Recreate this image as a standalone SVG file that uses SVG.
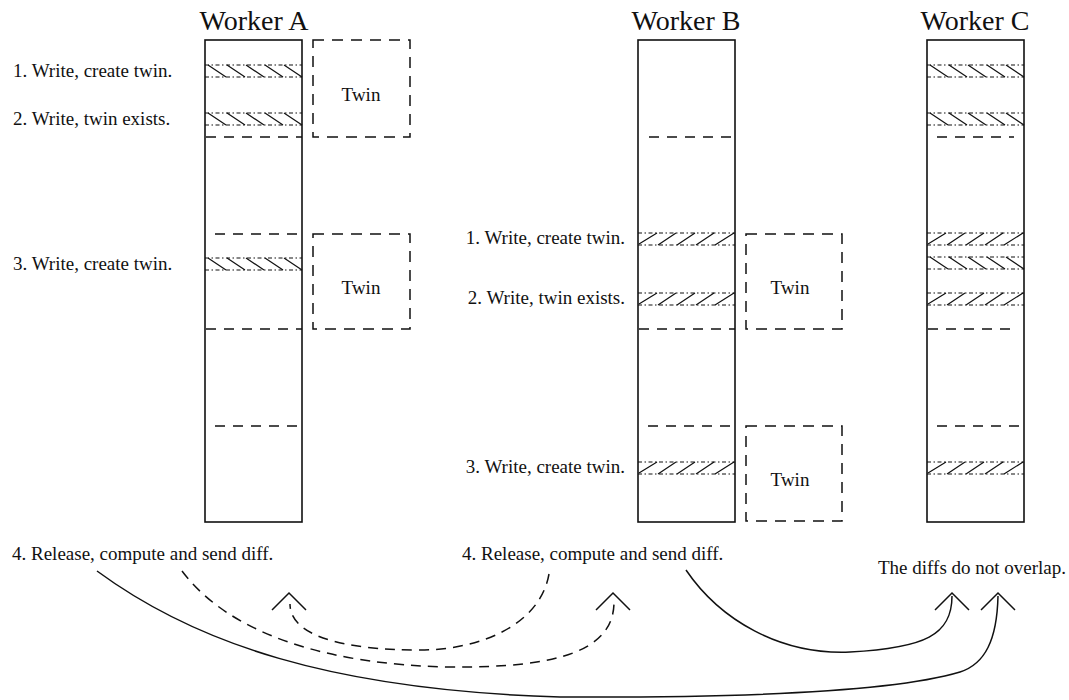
<svg xmlns="http://www.w3.org/2000/svg" xmlns:xlink="http://www.w3.org/1999/xlink" width="1069" height="700" viewBox="0 0 1069 700">
<style>
  .bg { fill: #ffffff; }
  .title { font-family: "Liberation Serif", "Times New Roman", serif; font-size: 28px; fill: #111; text-anchor: middle; }
  .lbl { font-family: "Liberation Serif", "Times New Roman", serif; font-size: 19px; fill: #111; }
  .twintxt { font-family: "Liberation Serif", "Times New Roman", serif; font-size: 19px; fill: #111; text-anchor: middle; }
  .box { fill: none; stroke: #111; stroke-width: 1.6; }
  .dl { fill: none; stroke: #111; stroke-width: 1.5; stroke-dasharray: 10 8; }
  .twin { fill: none; stroke: #111; stroke-width: 1.5; stroke-dasharray: 11 8; }
  .sb { fill: none; stroke: #111; stroke-width: 1.2; stroke-dasharray: 4 2.5 1.5 2.5; }
  .h { fill: none; stroke: #111; stroke-width: 1.2; }
  .conn { fill: none; stroke: #111; stroke-width: 1.5; }
  .connd { fill: none; stroke: #111; stroke-width: 1.5; stroke-dasharray: 10 7; }
  .chev { fill: none; stroke: #111; stroke-width: 1.5; }
</style>
<defs>
  <g id="back">
    <line class="sb" x1="0" y1="0" x2="97" y2="0"/>
    <line class="sb" x1="0" y1="12" x2="97" y2="12"/>
    <path class="h" d="M3 0 L21 12 M22 0 L40 12 M41 0 L59 12 M60 0 L78 12 M79 0 L97 12"/>
  </g>
  <g id="fwd">
    <line class="sb" x1="0" y1="0" x2="97" y2="0"/>
    <line class="sb" x1="0" y1="12" x2="97" y2="12"/>
    <path class="h" d="M1 11 L19 0 M20 12 L38 0 M39 12 L57 0 M58 12 L76 0 M77 12 L96 0"/>
  </g>
  <path id="chev" class="chev" d="M-17 17 L0 0 L17 17"/>
</defs>
<rect class="bg" x="0" y="0" width="1069" height="700"/>

<g id="workerA">
  <text class="title" x="254" y="30">Worker A</text>
  <rect class="box" x="205" y="40" width="97" height="482"/>
  <use xlink:href="#back" href="#back" x="205" y="65"/>
  <use xlink:href="#back" href="#back" x="205" y="113"/>
  <use xlink:href="#back" href="#back" x="205" y="258"/>
  <line class="dl" x1="206" y1="137" x2="302" y2="137"/>
  <line class="dl" x1="215" y1="234" x2="302" y2="234"/>
  <line class="dl" x1="206" y1="329" x2="302" y2="329"/>
  <line class="dl" x1="215" y1="426" x2="302" y2="426"/>
  <text class="lbl" x="13" y="77">1. Write, create twin.</text>
  <text class="lbl" x="13" y="125">2. Write, twin exists.</text>
  <text class="lbl" x="13" y="270">3. Write, create twin.</text>
  <text class="lbl" x="12" y="560">4. Release, compute and send diff.</text>
</g>

<g id="twinA1">
  <rect class="twin" x="313" y="40" width="97" height="97"/>
  <text class="twintxt" x="361" y="101">Twin</text>
</g>
<g id="twinA2">
  <rect class="twin" x="313" y="234" width="97" height="95"/>
  <text class="twintxt" x="361" y="294">Twin</text>
</g>

<g id="workerB">
  <text class="title" x="686" y="30">Worker B</text>
  <rect class="box" x="638" y="40" width="97" height="482"/>
  <use xlink:href="#fwd" href="#fwd" x="638" y="233"/>
  <use xlink:href="#fwd" href="#fwd" x="638" y="293"/>
  <use xlink:href="#fwd" href="#fwd" x="638" y="462"/>
  <line class="dl" x1="649" y1="137" x2="735" y2="137"/>
  <line class="dl" x1="639" y1="329" x2="735" y2="329"/>
  <line class="dl" x1="648" y1="426" x2="735" y2="426"/>
  <text class="lbl" x="625" y="244" text-anchor="end">1. Write, create twin.</text>
  <text class="lbl" x="625" y="304" text-anchor="end">2. Write, twin exists.</text>
  <text class="lbl" x="625" y="473" text-anchor="end">3. Write, create twin.</text>
  <text class="lbl" x="462" y="560">4. Release, compute and send diff.</text>
</g>

<g id="twinB1">
  <rect class="twin" x="746" y="234" width="96" height="95"/>
  <text class="twintxt" x="790" y="294">Twin</text>
</g>
<g id="twinB2">
  <rect class="twin" x="746" y="426" width="96" height="95"/>
  <text class="twintxt" x="790" y="486">Twin</text>
</g>

<g id="workerC">
  <text class="title" x="975" y="30">Worker C</text>
  <rect class="box" x="927" y="40" width="97" height="482"/>
  <use xlink:href="#back" href="#back" x="927" y="65"/>
  <use xlink:href="#back" href="#back" x="927" y="113"/>
  <use xlink:href="#fwd" href="#fwd" x="927" y="233"/>
  <use xlink:href="#back" href="#back" x="927" y="257"/>
  <use xlink:href="#fwd" href="#fwd" x="927" y="293"/>
  <use xlink:href="#fwd" href="#fwd" x="927" y="462"/>
  <line class="dl" x1="937" y1="137" x2="1014" y2="137"/>
  <line class="dl" x1="928" y1="329" x2="1014" y2="329"/>
  <line class="dl" x1="937" y1="426" x2="1024" y2="426"/>
  <text class="lbl" x="878" y="574">The diffs do not overlap.</text>
</g>

<g id="connectors">
  <path class="conn" d="M97 571 C195 643 330 690 560 697 C760 698 900 690 960 672 C985 664 997 640 998 596"/>
  <path class="conn" d="M686 570 C720 620 780 655 850 652 C925 648 952 635 952 596"/>
  <path class="connd" d="M182 571 C230 635 330 665 450 667 C560 668 614 650 614 602"/>
  <path class="connd" d="M549 574 C540 625 480 650 420 650 C340 650 290 635 290 604"/>
  <use xlink:href="#chev" href="#chev" x="289" y="593"/>
  <use xlink:href="#chev" href="#chev" x="613" y="593"/>
  <use xlink:href="#chev" href="#chev" x="952" y="593"/>
  <use xlink:href="#chev" href="#chev" x="998" y="593"/>
</g>
</svg>
